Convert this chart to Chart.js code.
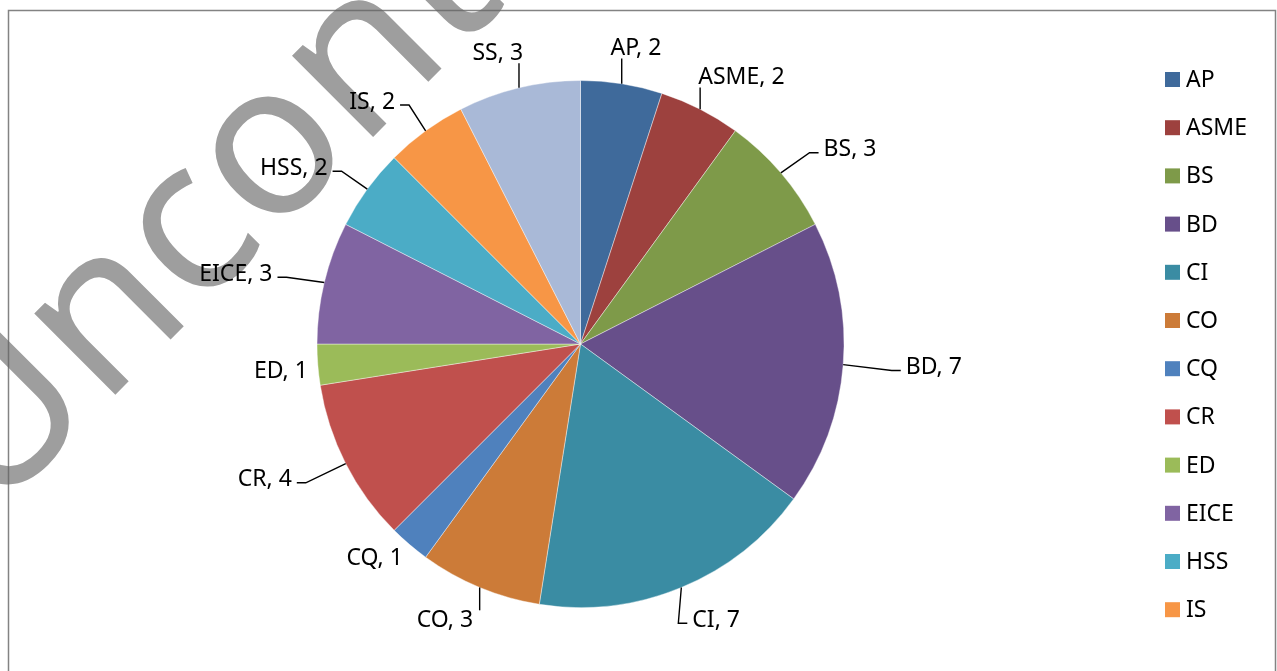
<!DOCTYPE html>
<html>
<head>
<meta charset="utf-8">
<script src="https://cdn.jsdelivr.net/npm/chart.js@4.4.1/dist/chart.umd.min.js"></script>
<style>
    html, body { margin: 0; padding: 0; background: #ffffff; }
    #wrap { width: 1277px; height: 671px; }
</style>
</head>
<body>
<div id="wrap"><canvas id="pieChart" width="1277" height="671"></canvas></div>
<script>
// Datos del gráfico
const categories = ['AP', 'ASME', 'BS', 'BD', 'CI', 'CO', 'CQ', 'CR', 'ED', 'EICE', 'HSS', 'IS', 'SS'];
const counts = [2, 2, 3, 7, 7, 3, 1, 4, 1, 3, 2, 2, 3];
const sliceColors = [
    '#3F6A9B', '#9D413E', '#7E9A49', '#674F8A', '#3A8CA3', '#CC7B38',
    '#4F81BD', '#C0504D', '#9BBB59', '#8064A2', '#4BACC6', '#F79646',
    '#A9B9D7'
];
const watermarkText = 'Uncontrolled';

const textFont = '23px "Noto Sans"';

// Marca de agua y marco
const backdropPlugin = {
    id: 'backdrop',
    beforeDraw(chart) {
        const ctx = chart.ctx;
        ctx.save();
        ctx.fillStyle = '#9e9e9e';
        ctx.font = '214px "Noto Sans"';
        ctx.textBaseline = 'alphabetic';
        ctx.translate(-8, 518);
        ctx.rotate(-Math.PI / 4);
        ctx.fillText(watermarkText, 0, 0);
        ctx.restore();

        ctx.save();
        ctx.strokeStyle = 'rgba(100,100,100,0.8)';
        ctx.lineWidth = 1.5;
        ctx.beginPath();
        ctx.moveTo(8.5, chart.height);
        ctx.lineTo(8.5, 10.5);
        ctx.lineTo(1275.5, 10.5);
        ctx.lineTo(1275.5, chart.height);
        ctx.stroke();
        ctx.restore();
    }
};

// Etiquetas de cada sector con líneas guía
const sliceLabelPlugin = {
    id: 'sliceLabels',
    afterDatasetsDraw(chart) {
        const ctx = chart.ctx;
        const meta = chart.getDatasetMeta(0);
        ctx.save();
        ctx.font = textFont;
        ctx.fillStyle = '#000';
        ctx.strokeStyle = '#000';
        ctx.lineWidth = 1.4;
        meta.data.forEach((arc, i) => {
            const p = arc.getProps(['x', 'y', 'startAngle', 'endAngle', 'outerRadius'], true);
            const r = p.outerRadius;
            const mid = (p.startAngle + p.endAngle) / 2;
            const dx = Math.cos(mid);
            const dy = Math.sin(mid);
            const ex = p.x + r * dx;
            const ey = p.y + r * dy;
            const text = categories[i] + ', ' + counts[i];
            const w = ctx.measureText(text).width;
            const h = 24;
            const narrow = (p.endAngle - p.startAngle) < 0.2;

            if (narrow) {
                // Sector estrecho: etiqueta pegada, sin guía
                ctx.textAlign = dx >= 0 ? 'left' : 'right';
                ctx.textBaseline = 'middle';
                ctx.fillText(text, ex + dx * 10, ey + dy * 10 + 6);
                return;
            }

            // Centro de la etiqueta sobre una elipse alrededor del pastel
            const lx = p.x + dx * r * 1.345;
            const ly = p.y + dy * r * 1.135;

            ctx.beginPath();
            ctx.moveTo(ex, ey);
            if (ex > lx - w / 2 - 2 && ex < lx + w / 2 + 10) {
                const ty = dy < 0 ? ly + h / 2 - 2 : ly - h / 2 + 2;
                ctx.lineTo(ex, ty);
            } else {
                const side = ex < lx ? -1 : 1;
                const edgeX = lx + side * (w / 2 + 5);
                const stubY = ly + 3;
                ctx.lineTo(edgeX + side * 9, stubY);
                ctx.lineTo(edgeX, stubY);
            }
            ctx.stroke();

            ctx.textAlign = 'center';
            ctx.textBaseline = 'middle';
            ctx.fillText(text, lx, ly);
        });
        ctx.restore();
    }
};

// Leyenda a la derecha (se corta cuando no hay espacio)
const sideLegendPlugin = {
    id: 'sideLegend',
    afterDraw(chart) {
        const ctx = chart.ctx;
        const colors = chart.data.datasets[0].backgroundColor;
        ctx.save();
        ctx.font = textFont;
        ctx.textAlign = 'left';
        ctx.textBaseline = 'middle';
        chart.data.labels.forEach((label, i) => {
            const y = 79.5 + i * 48.2;
            if (y > chart.height - 40) return;
            ctx.fillStyle = colors[i];
            ctx.fillRect(1165, y - 7.5, 15, 15);
            ctx.fillStyle = '#000';
            ctx.fillText(label, 1186, y + 1);
        });
        ctx.restore();
    }
};

const ctx = document.getElementById('pieChart').getContext('2d');
const pieChart = new Chart(ctx, {
    type: 'pie',
    data: {
        labels: categories,
        datasets: [{
            data: counts,
            backgroundColor: sliceColors,
            borderColor: 'rgba(255,255,255,0.4)',
            borderWidth: 1
        }]
    },
    options: {
        responsive: false,
        animation: false,
        layout: {
            padding: { left: 316, right: 432, top: 80, bottom: 63 }
        },
        plugins: {
            legend: { display: false },
            tooltip: { enabled: false }
        }
    },
    plugins: [backdropPlugin, sliceLabelPlugin, sideLegendPlugin]
});
</script>
</body>
</html>
